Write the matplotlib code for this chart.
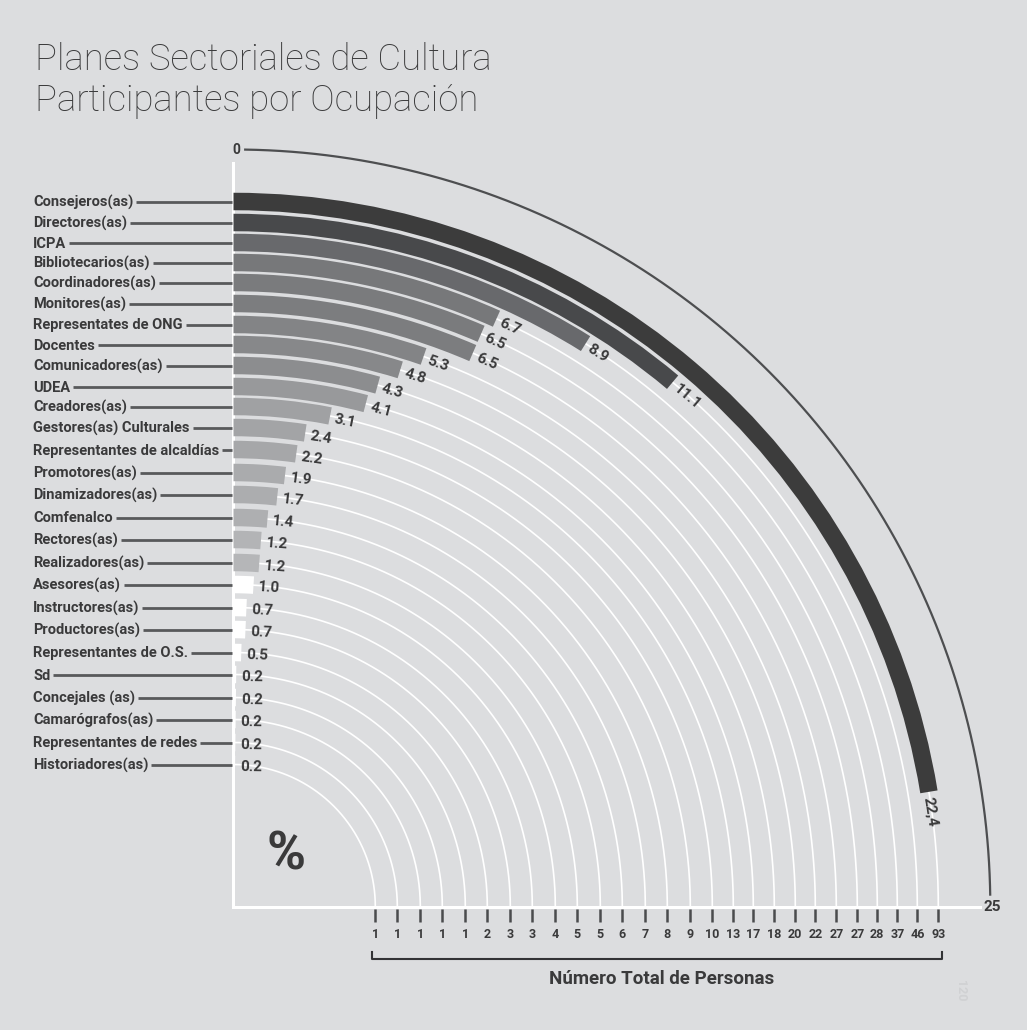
import numpy as np
import matplotlib
matplotlib.use('Agg')
import matplotlib.pyplot as plt

# ---------------- data ----------------
categories = ['Consejeros(as)', 'Directores(as)', 'ICPA', 'Bibliotecarios(as)',
              'Coordinadores(as)', 'Monitores(as)', 'Representates de ONG', 'Docentes',
              'Comunicadores(as)', 'UDEA', 'Creadores(as)', 'Gestores(as) Culturales',
              'Representantes de alcaldías', 'Promotores(as)', 'Dinamizadores(as)',
              'Comfenalco', 'Rectores(as)', 'Realizadores(as)', 'Asesores(as)',
              'Instructores(as)', 'Productores(as)', 'Representantes de O.S.', 'Sd',
              'Concejales (as)', 'Camarógrafos(as)', 'Representantes de redes',
              'Historiadores(as)']
percent = [22.4, 11.1, 8.9, 6.7, 6.5, 6.5, 5.3, 4.8, 4.3, 4.1, 3.1, 2.4, 2.2, 1.9,
           1.7, 1.4, 1.2, 1.2, 1.0, 0.7, 0.7, 0.5, 0.2, 0.2, 0.2, 0.2, 0.2]
percent_labels = ['22,4', '11.1', '8.9', '6.7', '6.5', '6.5', '5.3', '4.8', '4.3',
                  '4.1', '3.1', '2.4', '2.2', '1.9', '1.7', '1.4', '1.2', '1.2', '1.0',
                  '0.7', '0.7', '0.5', '0.2', '0.2', '0.2', '0.2', '0.2']
counts = [93, 46, 37, 28, 27, 27, 22, 20, 18, 17, 13, 10, 9, 8, 7, 6, 5, 5, 4, 3, 3,
          2, 1, 1, 1, 1, 1]
scale_min, scale_max = 0, 25

# ---------------- styles / layout ----------------
bar_colors = ['#3c3c3c', '#48494b', '#68696c', '#77787a', '#7a7b7d', '#7c7d7f',
              '#838486', '#87888a', '#8c8d8f', '#98999b', '#a0a1a3', '#a3a4a6',
              '#a6a7a9', '#aaabad', '#acadaf', '#aeafb1', '#b3b4b6', '#b5b6b8'] + ['#ffffff'] * 9
ring_r = [705, 684, 664, 644, 624, 603, 582, 562, 541, 520, 500, 479, 457, 434, 412,
          389, 367, 344, 322, 299, 277, 254, 232, 209, 187, 164, 142]
BAR_H = 17.5
W, H = 1027, 1030
CX, CY = 233.3, 906.5
RMAX = 800
BG = '#dcdddf'
TXT = '#3a3a3b'
FONT = ['Roboto', 'DejaVu Sans']
plt.rcParams['font.family'] = FONT

fig = plt.figure(figsize=(W / 100, H / 100), dpi=100)
fig.patch.set_facecolor(BG)

# ---------------- polar (quarter) axes ----------------
pax = fig.add_axes([CX / W, (H - CY) / H, RMAX / W, RMAX / H], projection='polar')
pax.set_theta_zero_location('N')
pax.set_theta_direction(-1)
pax.set_thetamin(0)
pax.set_thetamax(90)
pax.set_ylim(0, RMAX)
pax.set_axis_off()


def to_theta(v):
    return np.deg2rad((np.asarray(v, dtype=float) - scale_min) / (scale_max - scale_min) * 90.0)


theta = to_theta(percent)
ring = np.array(ring_r, dtype=float)

# white guide arcs
tt = np.linspace(0, np.pi / 2, 400)
for r in ring:
    pax.plot(tt, np.full_like(tt, r), color='white', lw=1.2, zorder=1,
             clip_on=False, solid_capstyle='butt')

# axis lines (white)
pax.plot([0, 0], [0, 744], color='white', lw=2.2, zorder=1, clip_on=False)
pax.plot([np.pi / 2, np.pi / 2], [0, 747], color='white', lw=2.2, zorder=1, clip_on=False)

# outer scale arc 0..25
ta = to_theta(np.linspace(0.25, 24.75, 400))
pax.plot(ta, np.full_like(ta, 757), color='#4d4e50', lw=1.6, zorder=1, clip_on=False)

# bars
pax.bar(np.zeros(len(percent)), BAR_H, width=theta, bottom=ring - BAR_H / 2,
        align='edge', color=bar_colors, edgecolor='none', zorder=2)

# value labels
for r, th, lab in zip(ring, theta, percent_labels):
    pax.text(th + 5.0 / r, r - 2, lab, rotation=-np.degrees(th), rotation_mode='anchor',
             ha='left', va='center', fontsize=11, fontweight='bold', color=TXT,
             zorder=3, clip_on=False)

# ---------------- overlay axes (pixel coordinates) ----------------
ox = fig.add_axes([0, 0, 1, 1])
ox.set_xlim(0, W)
ox.set_ylim(H, 0)
ox.set_axis_off()

ox.text(35, 70, 'Planes Sectoriales de Cultura', fontsize=26.3, fontweight='light',
        color=TXT, ha='left', va='baseline')
ox.text(35, 111, 'Participantes por Ocupación', fontsize=26.3, fontweight='light',
        color=TXT, ha='left', va='baseline')

ox.text(CX + 3, CY - 756, '0', fontsize=10, fontweight='bold', color=TXT,
        ha='center', va='center')
ox.text(992, CY + 0.5, '25', fontsize=11, fontweight='bold', color=TXT,
        ha='center', va='center')

ox.text(286, 855, '%', fontsize=38, fontweight='bold', color=TXT,
        ha='center', va='center')

# category labels with leader lines
label_texts = []
for cat, r in zip(categories, ring):
    y = CY - r
    t = ox.text(33, y + 5, cat, fontsize=10.5, fontweight='bold', color=TXT,
                ha='left', va='baseline')
    label_texts.append((t, y))

fig.canvas.draw()
inv = ox.transData.inverted()
for t, y in label_texts:
    bb = t.get_window_extent()
    x_end = inv.transform((bb.x1, bb.y0))[0]
    ox.plot([x_end + 3, CX - 1], [y, y], color='#58595b', lw=2.0,
            solid_capstyle='butt')

# bottom count ticks and numbers
for r, c in zip(ring, counts):
    x = CX + r
    ox.plot([x, x], [909, 922], color='#4a4b4d', lw=1.8, solid_capstyle='butt')
    ox.text(x, 934, str(c), fontsize=9, fontweight='bold', color=TXT,
            ha='center', va='center')

# bracket
xl, xr = CX + ring.min() - 3, CX + ring.max() + 4
ox.plot([xl, xl, xr, xr], [952, 959, 959, 952], color='#333335', lw=1.5)
ox.text((xl + xr) / 2 + 4, 979, 'Número Total de Personas', fontsize=13.5,
        fontweight='bold', color=TXT, ha='center', va='center')

ox.text(960, 991, '120', fontsize=9, fontweight='bold', color='#d0d1d3',
        rotation=-90, ha='center', va='center')

fig.savefig('out.png', dpi=100, facecolor=BG)
